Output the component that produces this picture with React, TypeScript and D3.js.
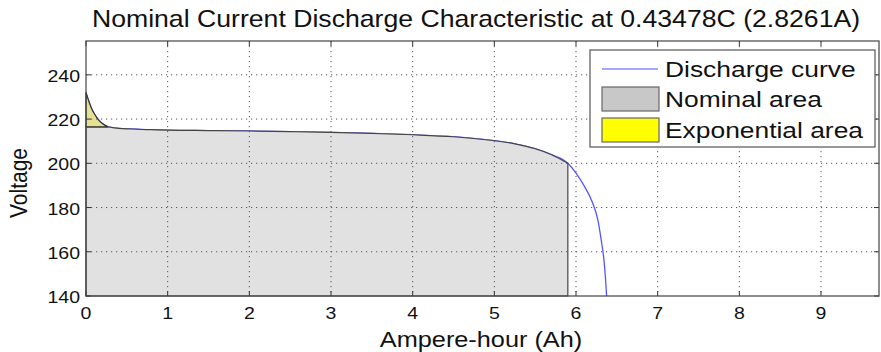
import React from "react";
import * as d3 from "d3";

const ampHours = [0, 0.03, 0.06, 0.1, 0.15, 0.2, 0.27, 0.4, 0.55, 0.8, 1, 1.5, 2, 2.5, 3, 3.5, 4, 4.5, 5, 5.25, 5.5, 5.7, 5.9, 6.0, 6.1, 6.2, 6.27, 6.31, 6.34, 6.36, 6.375];
const voltage = [232, 228.5, 225.5, 222.5, 219.8, 218.0, 216.5, 215.8, 215.5, 215.2, 215.0, 214.8, 214.6, 214.3, 214.0, 213.5, 212.9, 212.0, 210.2, 208.8, 206.6, 203.9, 200, 195.6, 189.8, 182.4, 174.0, 165.0, 157.0, 148.5, 140];
const expEndIndex = 6;
const nomEndIndex = 22;
const xTicks = [0, 1, 2, 3, 4, 5, 6, 7, 8, 9];
const yTicks = [140, 160, 180, 200, 220, 240];
const legendLabels = ["Discharge curve", "Nominal area", "Exponential area"];
const titleText = "Nominal Current Discharge Characteristic at 0.43478C (2.8261A)";
const xLabel = "Ampere-hour (Ah)";
const yLabel = "Voltage";

const W = 881, H = 352;
const L = 86, R = 879, T = 41, B = 296;
const FONT = "Liberation Sans, Arial, sans-serif";

export default function App() {
  const x = d3.scaleLinear().domain([0, 9.71]).range([L, R]);
  const y = d3.scaleLinear().domain([140, 255.3]).range([B, T]);
  const pts: [number, number][] = ampHours.map((a, i) => [a, voltage[i]]);
  const line = d3.line<[number, number]>().x(d => x(d[0])).y(d => y(d[1])).curve(d3.curveMonotoneX);
  const vExp = voltage[expEndIndex];
  const qNom = ampHours[nomEndIndex];

  const expPts = pts.slice(0, expEndIndex + 1);
  const expPath = line(expPts) + `L${x(0)},${y(vExp)}Z`;
  const nomPts = pts.slice(expEndIndex, nomEndIndex + 1);
  const nomPath = `M${x(0)},${y(vExp)}` + line(nomPts)!.replace(/^M/, "L") + `L${x(qNom)},${y(140)}L${x(0)},${y(140)}Z`;

  const stretchText = (tx: number, ty: number, s: number) => `translate(${tx},${ty}) scale(${s},1)`;

  return (
    <svg width={W} height={H} style={{ display: "block", position: "absolute", left: 0, top: 0, background: "#fff" }}>
      <rect x={0} y={0} width={W} height={H} fill="#fff" />
      <text transform={stretchText((92 + 860) / 2, 27, 1.11)} textAnchor="middle" fontFamily={FONT} fontSize={24} fill="#111">{titleText}</text>
      <rect x={L} y={T} width={R - L} height={B - T} fill="#fff" />
      <path d={line(pts)!} fill="none" stroke="#5555ff" strokeWidth={1.3} />
      <path d={nomPath} fill="#e1e1e1" stroke="#444" strokeWidth={1.2} />
      <path d={expPath} fill="#e4e292" stroke="#333" strokeWidth={1.2} />
      {xTicks.filter(t => t > 0).map(t => (
        <line key={"gx" + t} x1={x(t)} x2={x(t)} y1={T} y2={B} stroke="#555" strokeWidth={1} strokeDasharray="1.2,3.8" />
      ))}
      {yTicks.filter(t => t > 140).map(t => (
        <line key={"gy" + t} x1={L} x2={R} y1={y(t)} y2={y(t)} stroke="#555" strokeWidth={1} strokeDasharray="1.2,3.8" />
      ))}
      {xTicks.map(t => (
        <g key={"tx" + t}>
          <line x1={x(t)} x2={x(t)} y1={B} y2={B - 5} stroke="#333" />
          <line x1={x(t)} x2={x(t)} y1={T} y2={T + 5} stroke="#333" />
          <text transform={stretchText(x(t), 319, 1.22)} textAnchor="middle" fontFamily={FONT} fontSize={16} fill="#111">{t}</text>
        </g>
      ))}
      {yTicks.map(t => (
        <g key={"ty" + t}>
          <line x1={L} x2={L + 5} y1={y(t)} y2={y(t)} stroke="#333" />
          <line x1={R} x2={R - 5} y1={y(t)} y2={y(t)} stroke="#333" />
          <text transform={stretchText(80, y(t) + 7, 1.22)} textAnchor="end" fontFamily={FONT} fontSize={16} fill="#111">{t}</text>
        </g>
      ))}
      <rect x={L} y={T} width={R - L} height={B - T} fill="none" stroke="#444" strokeWidth={1.2} />
      <text transform={stretchText(481, 347, 1.15)} textAnchor="middle" fontFamily={FONT} fontSize={22} fill="#111">{xLabel}</text>
      <text transform={`translate(27,${183}) rotate(-90) scale(1,1.15)`} textAnchor="middle" fontFamily={FONT} fontSize={21} fill="#111">{yLabel}</text>
      <g>
        <rect x={590} y={50} width={285} height={97} fill="#fff" stroke="#555" strokeWidth={1.2} />
        <line x1={602} x2={658} y1={69} y2={69} stroke="#8888ff" strokeWidth={1.5} />
        <rect x={602} y={87} width={57} height={24} fill="#c8c8c8" stroke="#666" strokeWidth={1.2} />
        <rect x={602} y={118} width={57} height={24} fill="#ffff00" stroke="#666" strokeWidth={1.2} />
        {legendLabels.map((lab, i) => (
          <text key={lab} transform={stretchText(665, [77, 107, 138][i], 1.2)} fontFamily={FONT} fontSize={22} fill="#111">{lab}</text>
        ))}
      </g>
    </svg>
  );
}
